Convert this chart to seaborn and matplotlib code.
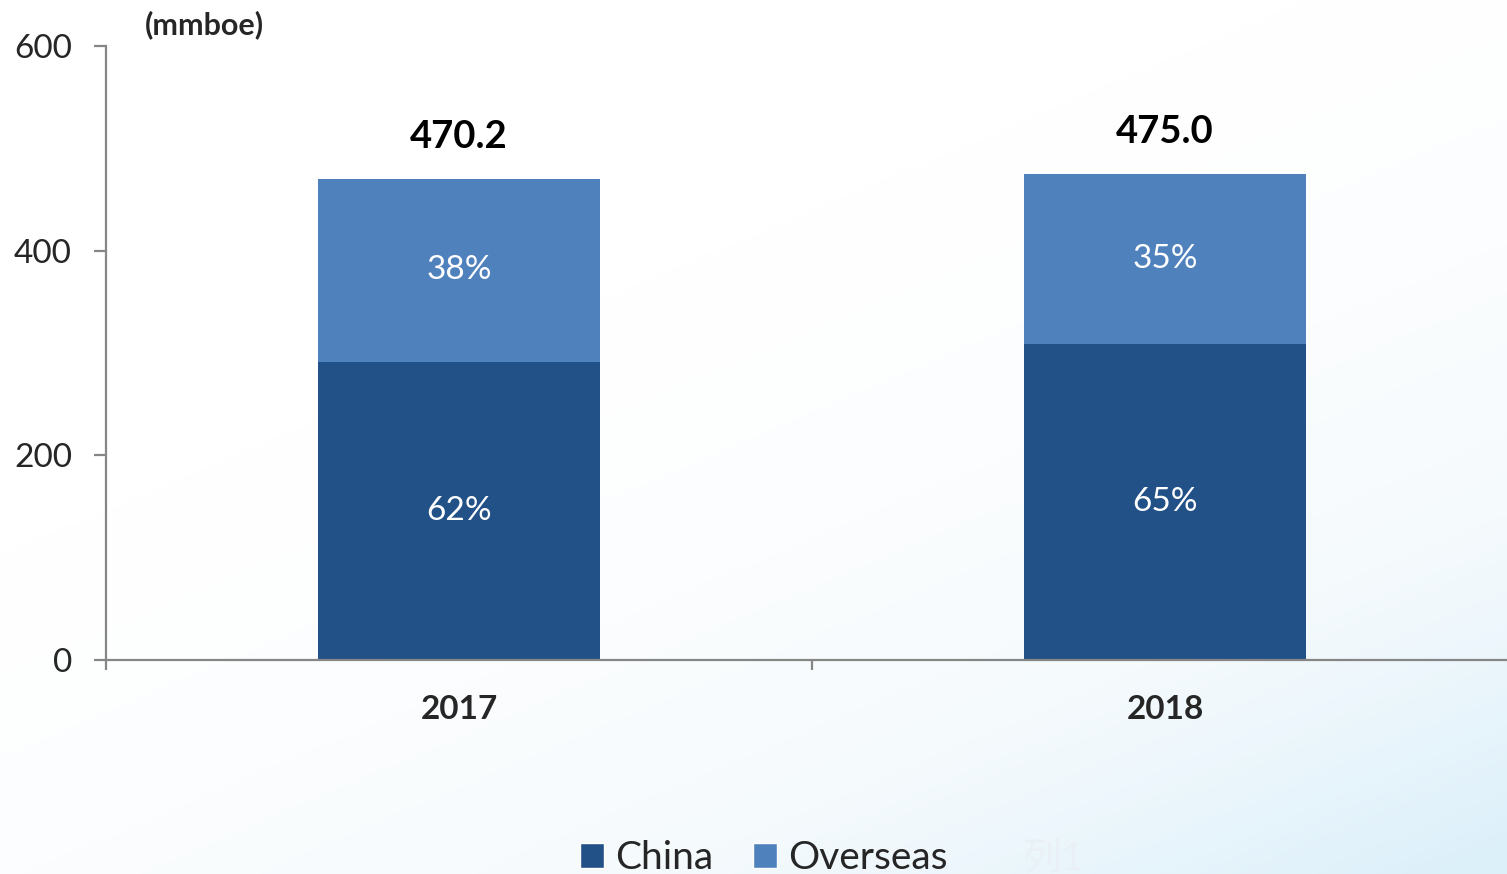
import numpy as np
import pandas as pd
import matplotlib
matplotlib.use("Agg")
import matplotlib.pyplot as plt
from matplotlib.patches import Patch
from matplotlib.colors import LinearSegmentedColormap
import seaborn as sns

# Net production by region (mmboe)
years = ["2017", "2018"]
totals = [470.2, 475.0]
china_share = [0.62, 0.65]
overseas_share = [0.38, 0.35]
total_labels = ["470.2", "475.0"]
china_labels = ["62%", "65%"]
overseas_labels = ["38%", "35%"]
legend_names = ["China", "Overseas", "列1"]
y_ticks = [0, 200, 400, 600]

china = [t * s for t, s in zip(totals, china_share)]

df = pd.DataFrame({"year": years, "total": totals, "china": china})

sns.set_theme(style="white")
plt.rcParams["font.family"] = ["Lato", "Noto Sans CJK SC", "DejaVu Sans"]

dark = "#215187"
light = "#4F81BD"
axis_grey = "#868686"

fig = plt.figure(figsize=(15.07, 8.74), dpi=100)

# soft white-to-pale-blue backdrop
bg = fig.add_axes([0, 0, 1, 1], zorder=-10)
xx, yy = np.meshgrid(np.linspace(0, 1, 300), np.linspace(0, 1, 200))
grad = np.clip((xx * 0.55 + yy * 0.75) - 0.45, 0, 1) ** 1.6
cmap = LinearSegmentedColormap.from_list("bg", ["#ffffff", "#f5fafd", "#dcf0fa"])
bg.imshow(grad, cmap=cmap, aspect="auto", extent=[0, 1, 0, 1], origin="upper", vmin=0, vmax=0.75)
bg.axis("off")

ax = fig.add_axes([106 / 1507, 1 - 660 / 874, 1412 / 1507, 614 / 874])
ax.set_facecolor("none")

sns.barplot(data=df, x="year", y="total", color=light, width=0.4, saturation=1,
            edgecolor="none", ax=ax, zorder=2)
sns.barplot(data=df, x="year", y="china", color=dark, width=0.4, saturation=1,
            edgecolor="none", ax=ax, zorder=3)

ax.set_xlim(-0.5, 1.5)
ax.set_ylim(0, 600)
ax.set_xlabel("")
ax.set_ylabel("")

for sp in ["top", "right"]:
    ax.spines[sp].set_visible(False)
for sp in ["left", "bottom"]:
    ax.spines[sp].set_color(axis_grey)
    ax.spines[sp].set_linewidth(1.6)
ax.spines["bottom"].set_zorder(4)

ax.set_yticks(y_ticks)
ax.set_yticklabels([str(v) for v in y_ticks], fontsize=24)
ax.tick_params(axis="y", direction="out", length=8.5, width=1.6, color=axis_grey,
               pad=16, left=True)

ax.set_xticks([0, 1])
ax.set_xticklabels(years, fontsize=24, fontweight="bold")
ax.set_xticks([-0.5, 0.5, 1.5], minor=True)
ax.tick_params(axis="x", which="major", length=0, pad=25)
ax.tick_params(axis="x", which="minor", direction="out", length=7, width=1.6,
               color=axis_grey, bottom=True)

for i in range(len(years)):
    ax.annotate(total_labels[i], (i, totals[i]), xytext=(0, 30), textcoords="offset points",
                ha="center", va="center", fontsize=27.5, fontweight="bold", color="black")
    ax.text(i, china[i] / 2, china_labels[i], ha="center", va="center",
            fontsize=24, color="white", zorder=5)
    ax.text(i, (china[i] + totals[i]) / 2, overseas_labels[i], ha="center", va="center",
            fontsize=24, color="white", zorder=5)

fig.text(204 / 1507, 1 - 25 / 874, "(mmboe)", ha="center", va="center",
         fontsize=22, fontweight="bold")

handles = [Patch(facecolor=dark), Patch(facecolor=light), Patch(facecolor="none", edgecolor="none")]
leg = fig.legend(handles, legend_names, loc="center", bbox_to_anchor=(0.552, 0.018),
                 ncol=3, frameon=False, fontsize=28, handlelength=0.62, handleheight=0.62,
                 handletextpad=0.3, columnspacing=1.0)
leg.get_texts()[2].set_color("#e9f1f7")

fig.savefig("out.png", dpi=100)
